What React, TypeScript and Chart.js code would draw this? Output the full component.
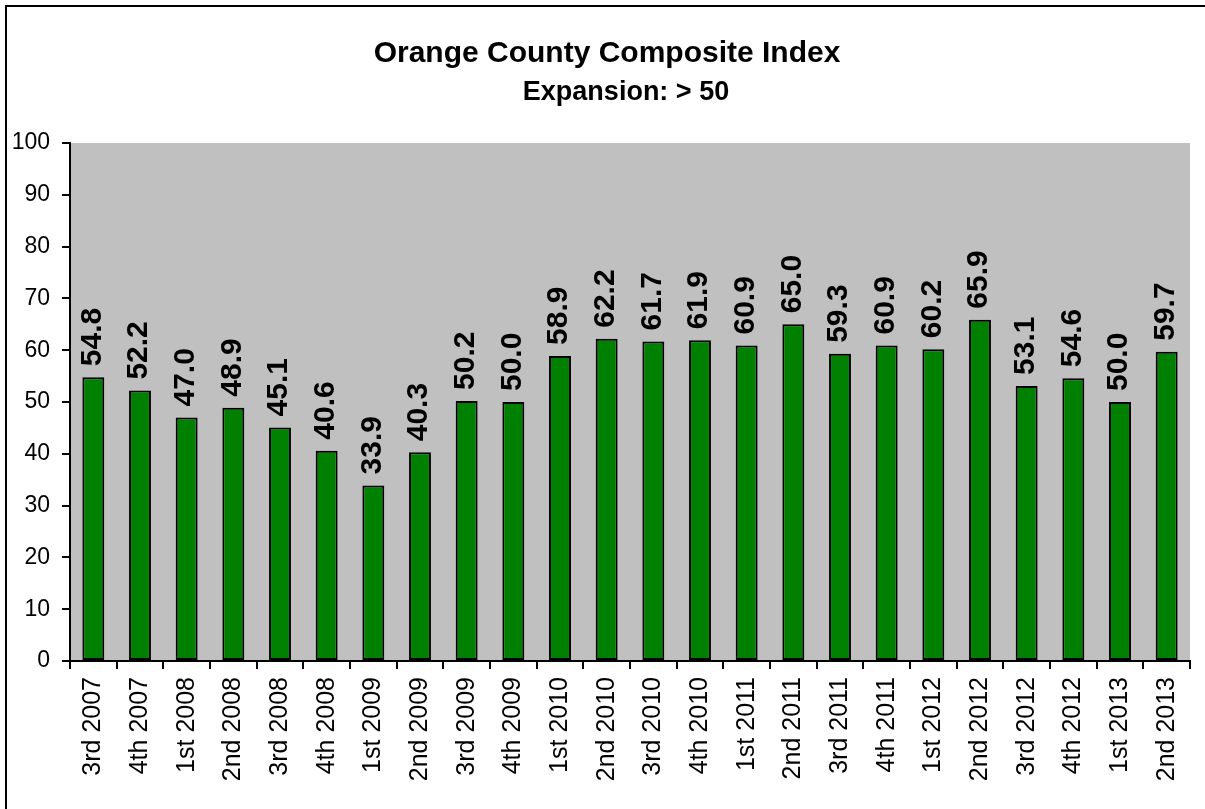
import React, { useEffect, useRef } from "react";
import { Chart, registerables } from "chart.js";

Chart.register(...registerables);

const TITLE_LINES = ["Orange County Composite Index", "Expansion: > 50"];

const QUARTERS = [
  "3rd 2007", "4th 2007", "1st 2008", "2nd 2008", "3rd 2008", "4th 2008",
  "1st 2009", "2nd 2009", "3rd 2009", "4th 2009", "1st 2010", "2nd 2010",
  "3rd 2010", "4th 2010", "1st 2011", "2nd 2011", "3rd 2011", "4th 2011",
  "1st 2012", "2nd 2012", "3rd 2012", "4th 2012", "1st 2013", "2nd 2013",
];

const INDEX_VALUES = [
  54.8, 52.2, 47.0, 48.9, 45.1, 40.6, 33.9, 40.3, 50.2, 50.0, 58.9, 62.2,
  61.7, 61.9, 60.9, 65.0, 59.3, 60.9, 60.2, 65.9, 53.1, 54.6, 50.0, 59.7,
];

const Y_MIN = 0;
const Y_MAX = 100;
const Y_STEP = 10;

const FONT = '"Liberation Sans", Arial, sans-serif';

const framePlugin = {
  id: "frameAndBackground",
  beforeDraw(chart: any) {
    const { ctx, chartArea, width, height } = chart;
    ctx.save();
    ctx.fillStyle = "#ffffff";
    ctx.fillRect(0, 0, width, height);
    ctx.fillStyle = "#C0C0C0";
    ctx.fillRect(chartArea.left, chartArea.top, chartArea.right - chartArea.left, chartArea.bottom - chartArea.top);
    ctx.strokeStyle = "#000000";
    ctx.lineWidth = 2;
    ctx.beginPath();
    ctx.moveTo(6, height + 2);
    ctx.lineTo(6, 6);
    ctx.lineTo(width + 2, 6);
    ctx.stroke();
    // title
    ctx.fillStyle = "#000000";
    ctx.textAlign = "center";
    ctx.textBaseline = "alphabetic";
    ctx.font = `bold 30px ${FONT}`;
    ctx.fillText(TITLE_LINES[0], 607, 62);
    ctx.font = `bold 27px ${FONT}`;
    ctx.fillText(TITLE_LINES[1], 626, 100);
    ctx.restore();
  },
};

const labelPlugin = {
  id: "barValueLabels",
  afterDatasetsDraw(chart: any) {
    const { ctx } = chart;
    const meta = chart.getDatasetMeta(0);
    const data = chart.data.datasets[0].data as number[];
    ctx.save();
    ctx.fillStyle = "#000000";
    ctx.font = `bold 30px ${FONT}`;
    ctx.textAlign = "left";
    ctx.textBaseline = "middle";
    meta.data.forEach((bar: any, i: number) => {
      ctx.save();
      ctx.translate(bar.x - 1, bar.y - 11);
      ctx.rotate(-Math.PI / 2);
      ctx.fillText(data[i].toFixed(1), 0, 0);
      ctx.restore();
    });
    ctx.restore();
  },
};

export default function App() {
  const canvasRef = useRef<HTMLCanvasElement | null>(null);

  useEffect(() => {
    if (!canvasRef.current) return;
    const chart = new Chart(canvasRef.current, {
      type: "bar",
      data: {
        labels: QUARTERS,
        datasets: [
          {
            data: INDEX_VALUES,
            backgroundColor: "#008000",
            borderColor: "#000000",
            borderWidth: 2,
            borderSkipped: false,
            barPercentage: 0.47,
            categoryPercentage: 1,
          },
        ],
      },
      options: {
        animation: false,
        responsive: false,
        maintainAspectRatio: false,
        layout: { padding: { top: 143, right: 15, bottom: 0, left: 0 } },
        plugins: {
          legend: { display: false },
          title: { display: false },
          tooltip: { enabled: false },
        },
        scales: {
          x: {
            grid: {
              display: true,
              drawOnChartArea: false,
              drawTicks: true,
              tickLength: 8,
              color: "#000000",
              lineWidth: 2,
              offset: true,
            },
            border: { display: true, color: "#000000", width: 2 },
            ticks: {
              color: "#000000",
              font: { family: FONT, size: 25 },
              minRotation: 90,
              maxRotation: 90,
              padding: 8,
              autoSkip: false,
            },
            afterFit(scale: any) {
              scale.height = 148;
            },
          },
          y: {
            min: Y_MIN,
            max: Y_MAX,
            grid: {
              display: true,
              drawOnChartArea: false,
              drawTicks: true,
              tickLength: 8,
              color: "#000000",
              lineWidth: 2,
            },
            border: { display: true, color: "#000000", width: 2 },
            ticks: {
              stepSize: Y_STEP,
              color: "#000000",
              font: { family: FONT, size: 23 },
              padding: 12,
            },
            afterFit(scale: any) {
              scale.width = 70;
            },
          },
        },
      },
      plugins: [framePlugin, labelPlugin],
    });
    return () => chart.destroy();
  }, []);

  return (
    <div style={{ position: "absolute", left: 0, top: 0, width: 1205, height: 809 }}>
      <canvas ref={canvasRef} width={1205} height={809} style={{ width: 1205, height: 809, display: "block" }} />
    </div>
  );
}
